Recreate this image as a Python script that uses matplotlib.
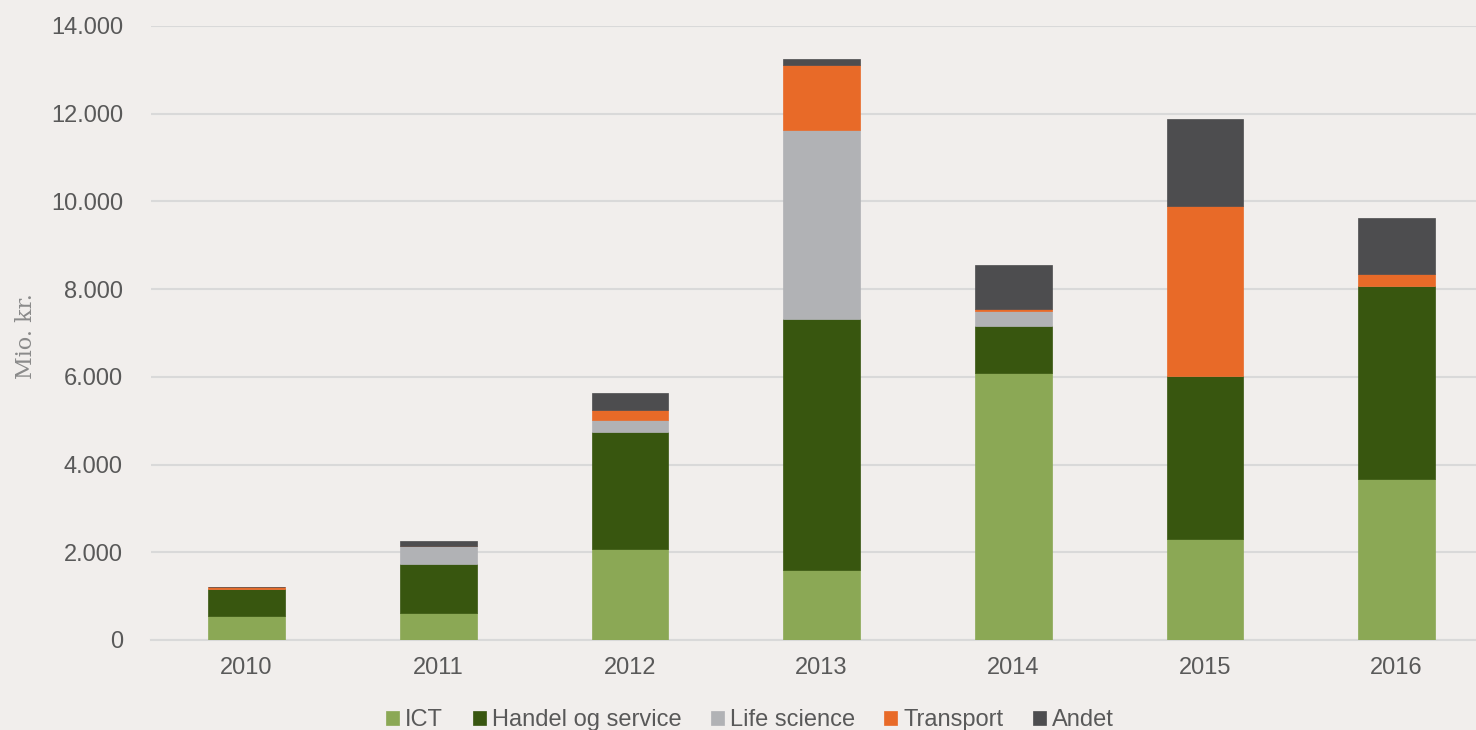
import matplotlib
matplotlib.use("Agg")
import matplotlib.pyplot as plt
import numpy as np

years = ["2010", "2011", "2012", "2013", "2014", "2015", "2016"]
ict = [545, 615, 2075, 1590, 6090, 2300, 3680]
handel = [625, 1125, 2670, 5730, 1080, 3710, 4400]
life = [0, 405, 265, 4310, 335, 0, 0]
transport = [40, 0, 235, 1480, 45, 3885, 260]
andet = [0, 105, 380, 140, 995, 1995, 1285]

series = [
    ("ICT", ict, "#8BA855"),
    ("Handel og service", handel, "#38560F"),
    ("Life science", life, "#B1B2B5"),
    ("Transport", transport, "#E86A28"),
    ("Andet", andet, "#4D4D4F"),
]
yticks = [0, 2000, 4000, 6000, 8000, 10000, 12000, 14000]
ytick_labels = ["0", "2.000", "4.000", "6.000", "8.000", "10.000", "12.000", "14.000"]

bg = "#F1EEEC"
plt.rcParams["font.family"] = ["Liberation Sans", "DejaVu Sans"]

fig = plt.figure(figsize=(14.76, 7.30), dpi=100, facecolor=bg)
ax = fig.add_axes([150.7 / 1476, 90 / 730, (1492.5 - 150.7) / 1476, 614 / 730])
ax.set_facecolor(bg)

x = np.arange(len(years))
bottom = np.zeros(len(years))
handles = []
for name, vals, col in series:
    v = np.array(vals, dtype=float)
    b = ax.bar(x, v, width=0.4, bottom=bottom, color=col, label=name,
               edgecolor=col, linewidth=0.5, zorder=3)
    handles.append(b)
    bottom += v

ax.set_xlim(-0.5, 6.5)
ax.set_ylim(0, 14000)
ax.set_yticks(yticks)
ax.set_yticklabels(ytick_labels)
ax.set_xticks(x)
ax.set_xticklabels(years)
ax.yaxis.grid(True, color="#D9D9D9", linewidth=1.5, zorder=0)
ax.set_axisbelow(True)
for s in ["left", "right", "top"]:
    ax.spines[s].set_visible(False)
ax.spines["bottom"].set_color("#D9D9D9")
ax.spines["bottom"].set_linewidth(1.5)
ax.tick_params(axis="both", length=0, labelsize=17, colors="#595959")
ax.tick_params(axis="y", pad=20)
ax.tick_params(axis="x", pad=12)

fig.text(26 / 1476, 1 - 336 / 730, "Mio. kr.", rotation=90, ha="center", va="center",
         fontsize=16, color="#8A8A8A", family=["DejaVu Serif"], fontweight="light")

leg = fig.legend(handles=handles, loc="center", bbox_to_anchor=(750 / 1476, 1 - 720 / 730),
                 ncol=5, frameon=False, prop={"size": 17},
                 handlelength=0.55, handleheight=0.55,
                 handletextpad=0.25, columnspacing=1.25, labelcolor="#595959")

fig.savefig("out.png", dpi=100, facecolor=bg)
